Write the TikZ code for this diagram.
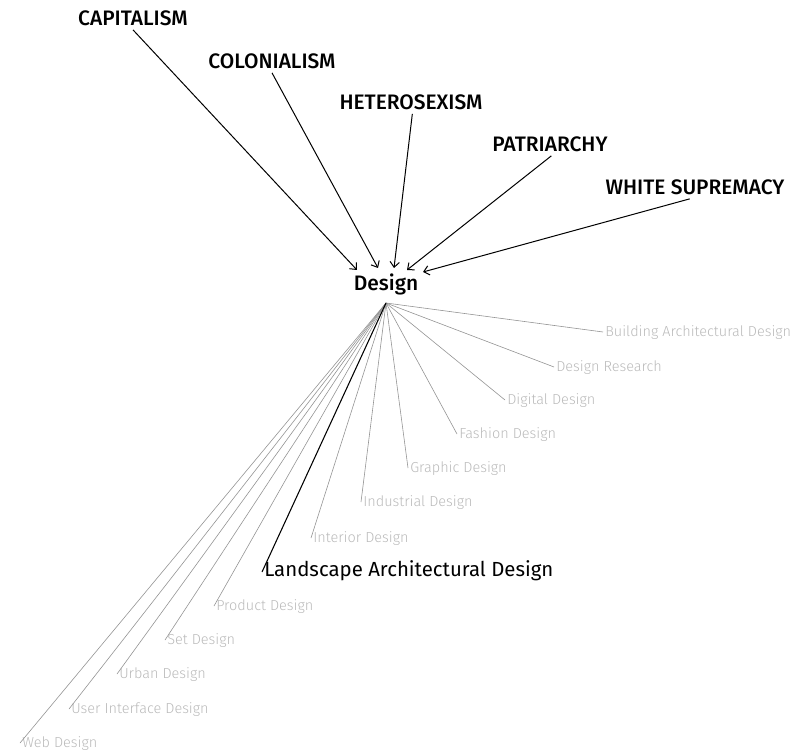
\documentclass[tikz,border=0pt]{standalone}
\usepackage{fontspec}
\setmainfont{Fira Sans Light}
\newfontfamily\headfont{Fira Sans Medium}
\newfontfamily\regfont{Fira Sans}
\usetikzlibrary{arrows.meta}
\begin{document}
\begin{tikzpicture}[x=0.75pt,y=-0.75pt,
  head/.style={font=\headfont\fontsize{15.7}{18}\selectfont, inner sep=0pt, text height=0.69em, text depth=0pt},
  leaf/.style={font=\fontsize{10.85}{12}\selectfont, text=black!27, anchor=west, inner sep=1.5pt, text height=0.7em, text depth=0.05em},
  arr/.style={draw=black, line width=0.75pt, -{Straight Barb[length=4pt,width=7pt]}},
  spoke/.style={draw=black!42, line width=0.45pt},
  mainspoke/.style={draw=black, line width=0.8pt}]
\useasboundingbox (0,0) rectangle (796,752);
% headings
\node[head] (cap) at (133,21) {CAPITALISM};
\node[head] (col) at (272,64) {COLONIALISM};
\node[head] (het) at (411,105) {HETEROSEXISM};
\node[head] (pat) at (550,147) {PATRIARCHY};
\node[head] (whi) at (695,190) {WHITE SUPREMACY};
\node[head] (des) at (386,286) {Design};
% arrow end points
\coordinate (t1) at (357,270);
\coordinate (t2) at (378,268);
\coordinate (t3) at (394,268);
\coordinate (t4) at (407,270);
\coordinate (t5) at (423,272);
\coordinate (hub) at (386,303);
\draw[arr] ([yshift=-3pt]cap.south) -- (t1);
\draw[arr] ([yshift=-3pt]col.south) -- (t2);
\draw[arr] ([xshift=1pt,yshift=-3pt]het.south) -- (t3);
\draw[arr] ([xshift=1pt,yshift=-3pt]pat.south) -- (t4);
\draw[arr] ([xshift=-4pt,yshift=-3pt]whi.south) -- (t5);
% leaves
\node[leaf] (l1) at (603,332) {Building Architectural Design};
\node[leaf] (l2) at (554,367) {Design Research};
\node[leaf] (l3) at (505,400) {Digital Design};
\node[leaf] (l4) at (457,434) {Fashion Design};
\node[leaf] (l5) at (408,468) {Graphic Design};
\node[leaf] (l6) at (361,502) {Industrial Design};
\node[leaf] (l7) at (311,538) {Interior Design};
\node[leaf, font=\regfont\fontsize{15.3}{17}\selectfont, text=black] (l8) at (262,572) {Landscape Architectural Design};
\node[leaf] (l9) at (214,606) {Product Design};
\node[leaf] (l10) at (165,640) {Set Design};
\node[leaf] (l11) at (117,674) {Urban Design};
\node[leaf] (l12) at (69,709) {User Interface Design};
\node[leaf] (l13) at (20,743) {Web Design};
\foreach \n in {l1,l2,l3,l4,l5,l6,l7,l9,l10,l11,l12,l13}
  \draw[spoke] (hub) -- (\n.west);
\draw[mainspoke] (hub) -- (l8.west);
\end{tikzpicture}
\end{document}
